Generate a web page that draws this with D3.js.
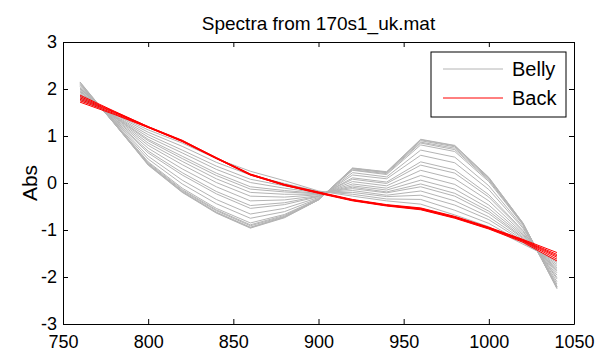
<!DOCTYPE html>
<html>
<head>
<meta charset="utf-8">
<script src="https://cdn.jsdelivr.net/npm/d3@7"></script>
<style>
    body { margin: 0; background: #fff; }
    svg { display: block; font-family: Arial, "Liberation Sans", sans-serif; }
    .axis path, .axis line { stroke: #000; }
    .axis text { fill: #000; font-size: 18px; }
</style>
</head>
<body>
<svg id="chart" width="597" height="354"></svg>
<script>
// Wavelengths (nm) of each measured point
const wavelengths = [760, 780, 800, 820, 840, 860, 880, 900, 920, 940, 960, 980, 1000, 1020, 1040];

// Belly spectra (grey)
const bellySpectra = [
    [2.15, 1.27, 0.38, -0.20, -0.64, -0.96, -0.74, -0.36, 0.32, 0.24, 0.93, 0.80, 0.12, -0.85, -2.25],
    [2.14, 1.27, 0.39, -0.19, -0.63, -0.95, -0.73, -0.36, 0.31, 0.23, 0.92, 0.79, 0.11, -0.85, -2.24],
    [2.12, 1.27, 0.40, -0.18, -0.62, -0.94, -0.72, -0.36, 0.31, 0.23, 0.90, 0.77, 0.10, -0.86, -2.20],
    [2.10, 1.28, 0.41, -0.16, -0.59, -0.91, -0.71, -0.35, 0.30, 0.22, 0.87, 0.74, 0.08, -0.87, -2.23],
    [2.08, 1.28, 0.43, -0.14, -0.57, -0.89, -0.69, -0.35, 0.28, 0.20, 0.85, 0.71, 0.06, -0.88, -2.21],
    [2.05, 1.29, 0.45, -0.11, -0.54, -0.85, -0.67, -0.34, 0.27, 0.18, 0.81, 0.67, 0.03, -0.89, -2.20],
    [2.02, 1.30, 0.51, -0.02, -0.44, -0.75, -0.61, -0.33, 0.22, 0.13, 0.70, 0.55, -0.06, -0.93, -2.15],
    [2.00, 1.32, 0.57, 0.06, -0.35, -0.66, -0.54, -0.31, 0.17, 0.09, 0.59, 0.43, -0.14, -0.96, -2.10],
    [1.97, 1.34, 0.64, 0.17, -0.23, -0.54, -0.46, -0.29, 0.11, 0.02, 0.45, 0.28, -0.25, -1.01, -2.04],
    [1.95, 1.35, 0.68, 0.22, -0.18, -0.48, -0.42, -0.28, 0.08, -0.01, 0.38, 0.21, -0.30, -1.03, -2.01],
    [1.93, 1.37, 0.74, 0.30, -0.08, -0.38, -0.36, -0.27, 0.03, -0.06, 0.27, 0.09, -0.38, -1.07, -1.96],
    [1.90, 1.38, 0.80, 0.39, 0.01, -0.28, -0.30, -0.25, -0.02, -0.11, 0.16, -0.03, -0.47, -1.10, -1.91],
    [1.88, 1.40, 0.85, 0.46, 0.09, -0.20, -0.24, -0.24, -0.06, -0.15, 0.06, -0.13, -0.54, -1.13, -1.87],
    [1.86, 1.41, 0.90, 0.52, 0.16, -0.13, -0.19, -0.23, -0.09, -0.19, -0.02, -0.22, -0.60, -1.16, -1.84],
    [1.84, 1.42, 0.93, 0.57, 0.21, -0.08, -0.16, -0.22, -0.12, -0.21, -0.08, -0.28, -0.65, -1.18, -1.81],
    [1.82, 1.43, 0.98, 0.64, 0.29, 0.01, -0.11, -0.21, -0.16, -0.26, -0.17, -0.38, -0.72, -1.21, -1.77],
    [1.80, 1.44, 1.03, 0.70, 0.36, 0.08, -0.06, -0.20, -0.20, -0.29, -0.26, -0.47, -0.78, -1.24, -1.73],
    [1.78, 1.46, 1.08, 0.78, 0.44, 0.17, -0.01, -0.18, -0.24, -0.34, -0.35, -0.58, -0.86, -1.27, -1.69],
    [1.76, 1.47, 1.13, 0.85, 0.52, 0.25, 0.05, -0.17, -0.28, -0.38, -0.45, -0.68, -0.93, -1.30, -1.65]
];

// Back spectra (red)
const backSpectra = [
    [1.87, 1.53, 1.20, 0.91, 0.54, 0.19, -0.03, -0.19, -0.35, -0.46, -0.53, -0.71, -0.94, -1.20, -1.48],
    [1.84, 1.52, 1.20, 0.90, 0.54, 0.19, -0.03, -0.20, -0.36, -0.47, -0.54, -0.72, -0.95, -1.21, -1.52],
    [1.81, 1.51, 1.19, 0.90, 0.53, 0.18, -0.04, -0.20, -0.36, -0.47, -0.55, -0.73, -0.95, -1.22, -1.55],
    [1.78, 1.50, 1.19, 0.89, 0.53, 0.18, -0.04, -0.21, -0.37, -0.48, -0.55, -0.73, -0.96, -1.23, -1.58],
    [1.75, 1.48, 1.18, 0.89, 0.52, 0.17, -0.05, -0.21, -0.37, -0.48, -0.56, -0.74, -0.97, -1.24, -1.62],
    [1.72, 1.46, 1.18, 0.88, 0.52, 0.17, -0.05, -0.22, -0.38, -0.49, -0.57, -0.75, -0.98, -1.26, -1.66]
];

const xTicks = [750, 800, 850, 900, 950, 1000, 1050];
const yTicks = [-3, -2, -1, 0, 1, 2, 3];
const legendLabels = ["Belly", "Back"];
const chartTitle = "Spectra from 170s1_uk.mat";
const yLabel = "Abs";

const colors = { Belly: "#b4b4b4", Back: "#ff0000" };

const margin = {top: 42, right: 23, bottom: 30, left: 63};
const width = 597 - margin.left - margin.right;
const height = 354 - margin.top - margin.bottom;

const svg = d3.select("#chart");
const g = svg.append("g")
    .attr("transform", `translate(${margin.left},${margin.top})`);

const x = d3.scaleLinear().domain([750, 1050]).range([0, width]);
const y = d3.scaleLinear().domain([-3, 3]).range([height, 0]);

const line = d3.line()
    .x((d, i) => x(wavelengths[i]))
    .y(d => y(d));

// Spectra
g.append("g").selectAll("path")
    .data(bellySpectra)
    .enter().append("path")
    .attr("d", line)
    .attr("fill", "none")
    .attr("stroke", colors.Belly)
    .attr("stroke-width", 1);

g.append("g").selectAll("path")
    .data(backSpectra)
    .enter().append("path")
    .attr("d", line)
    .attr("fill", "none")
    .attr("stroke", colors.Back)
    .attr("stroke-width", 1);

// Axes (ticks pointing inward, box all round)
const plain = d => String(d);

g.append("g")
    .attr("class", "axis")
    .attr("transform", `translate(0,${height})`)
    .call(d3.axisBottom(x).tickValues(xTicks).tickFormat(plain).tickSize(-5).tickSizeOuter(0).tickPadding(11));

g.append("g")
    .attr("class", "axis")
    .call(d3.axisLeft(y).tickValues(yTicks).tickFormat(plain).tickSize(-5).tickSizeOuter(0).tickPadding(6));

g.append("g")
    .attr("class", "axis")
    .call(d3.axisTop(x).tickValues(xTicks).tickSize(-5).tickSizeOuter(0).tickFormat(""));

g.append("g")
    .attr("class", "axis")
    .attr("transform", `translate(${width},0)`)
    .call(d3.axisRight(y).tickValues(yTicks).tickSize(-5).tickSizeOuter(0).tickFormat(""));

// Title and y label
svg.append("text")
    .attr("x", margin.left + width / 2)
    .attr("y", 30)
    .attr("text-anchor", "middle")
    .style("font-size", "19px")
    .text(chartTitle);

svg.append("text")
    .attr("transform", `translate(37,${margin.top + height / 2}) rotate(-90)`)
    .attr("text-anchor", "middle")
    .style("font-size", "21px")
    .text(yLabel);

// Legend
const legend = g.append("g")
    .attr("transform", `translate(${width - 143},10)`);

legend.append("rect")
    .attr("width", 135)
    .attr("height", 65)
    .attr("fill", "#fff")
    .attr("stroke", "#000");

legendLabels.forEach((label, i) => {
    const ly = 17 + i * 29;
    legend.append("line")
        .attr("x1", 12).attr("x2", 72)
        .attr("y1", ly).attr("y2", ly)
        .attr("stroke", colors[label]);
    legend.append("text")
        .attr("x", 81)
        .attr("y", ly)
        .attr("dy", "0.35em")
        .style("font-size", "20px")
        .text(label);
});
</script>
</body>
</html>
